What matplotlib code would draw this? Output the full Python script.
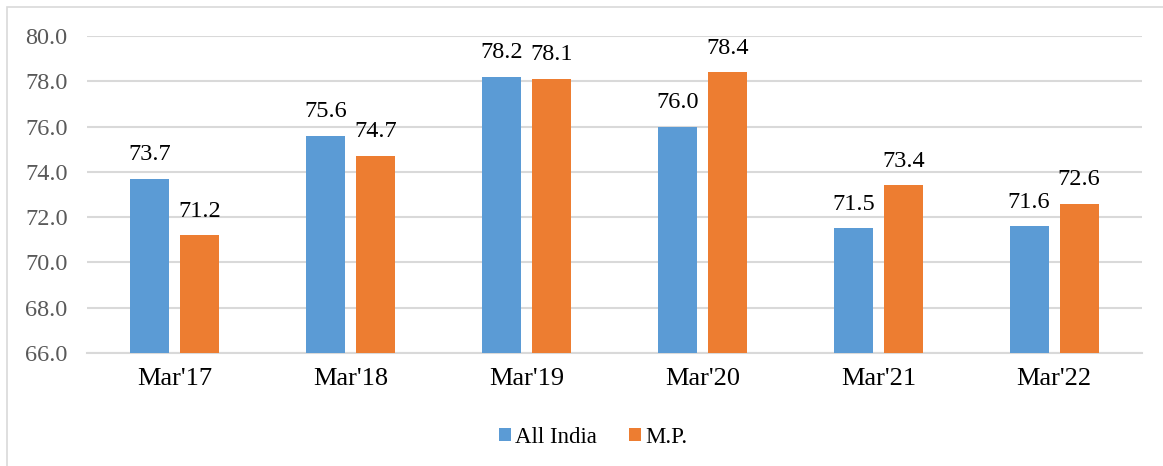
"""Grouped bar chart: All India vs M.P. by March of each year."""

import matplotlib.pyplot as plt
import numpy as np
from matplotlib.patches import Rectangle

categories = ["Mar'17", "Mar'18", "Mar'19", "Mar'20", "Mar'21", "Mar'22"]
all_india = [73.7, 75.6, 78.2, 76.0, 71.5, 71.6]
mp = [71.2, 74.7, 78.1, 78.4, 73.4, 72.6]
y_ticks = [66.0, 68.0, 70.0, 72.0, 74.0, 76.0, 78.0, 80.0]

BLUE = "#5B9BD5"
ORANGE = "#ED7D31"

plt.rcParams["font.family"] = ["Liberation Serif", "DejaVu Serif"]

fig = plt.figure(figsize=(11.63, 4.66), dpi=100)
ax = fig.add_axes([0.0748, 0.2425, 0.9072, 0.6802])

# outer frame of the chart area
fig.add_artist(Rectangle((0.006, -0.05), 1.2, 1.035, transform=fig.transFigure,
                         fill=False, edgecolor="#D9D9D9", linewidth=1.2))

x = np.arange(len(categories))
width = 0.222
offset = 0.142

b1 = ax.bar(x - offset, all_india, width, color=BLUE, label="All India", zorder=3)
b2 = ax.bar(x + offset, mp, width, color=ORANGE, label="M.P.", zorder=3)

for bars, vals in ((b1, all_india), (b2, mp)):
    for rect, v in zip(bars, vals):
        ax.text(rect.get_x() + rect.get_width() / 2, v + 0.6, f"{v:.1f}",
                ha="center", va="bottom", fontsize=17.5, color="black")

ax.set_ylim(66, 80)
ax.set_xlim(-0.5, len(categories) - 0.5)
ax.set_yticks(y_ticks)
ax.set_yticklabels([f"{t:.1f}" for t in y_ticks], fontsize=17.5, color="#595959")
ax.set_xticks(x)
ax.set_xticklabels(categories, fontsize=19, color="black")
ax.tick_params(axis="both", length=0)
ax.tick_params(axis="y", pad=14)
ax.tick_params(axis="x", pad=11)

ax.grid(axis="y", color="#D9D9D9", linewidth=1.5, zorder=0)
for side in ("top", "right", "left"):
    ax.spines[side].set_visible(False)
ax.spines["bottom"].set_color("#D9D9D9")
ax.spines["bottom"].set_linewidth(1.5)

fig.legend(handles=[b1, b2], loc="center", bbox_to_anchor=(0.51, 0.062), ncol=2,
           frameon=False, fontsize=16.5, handlelength=0.5, handleheight=0.5,
           handletextpad=0.2, columnspacing=1.4)

fig.savefig("out.png", dpi=100)
